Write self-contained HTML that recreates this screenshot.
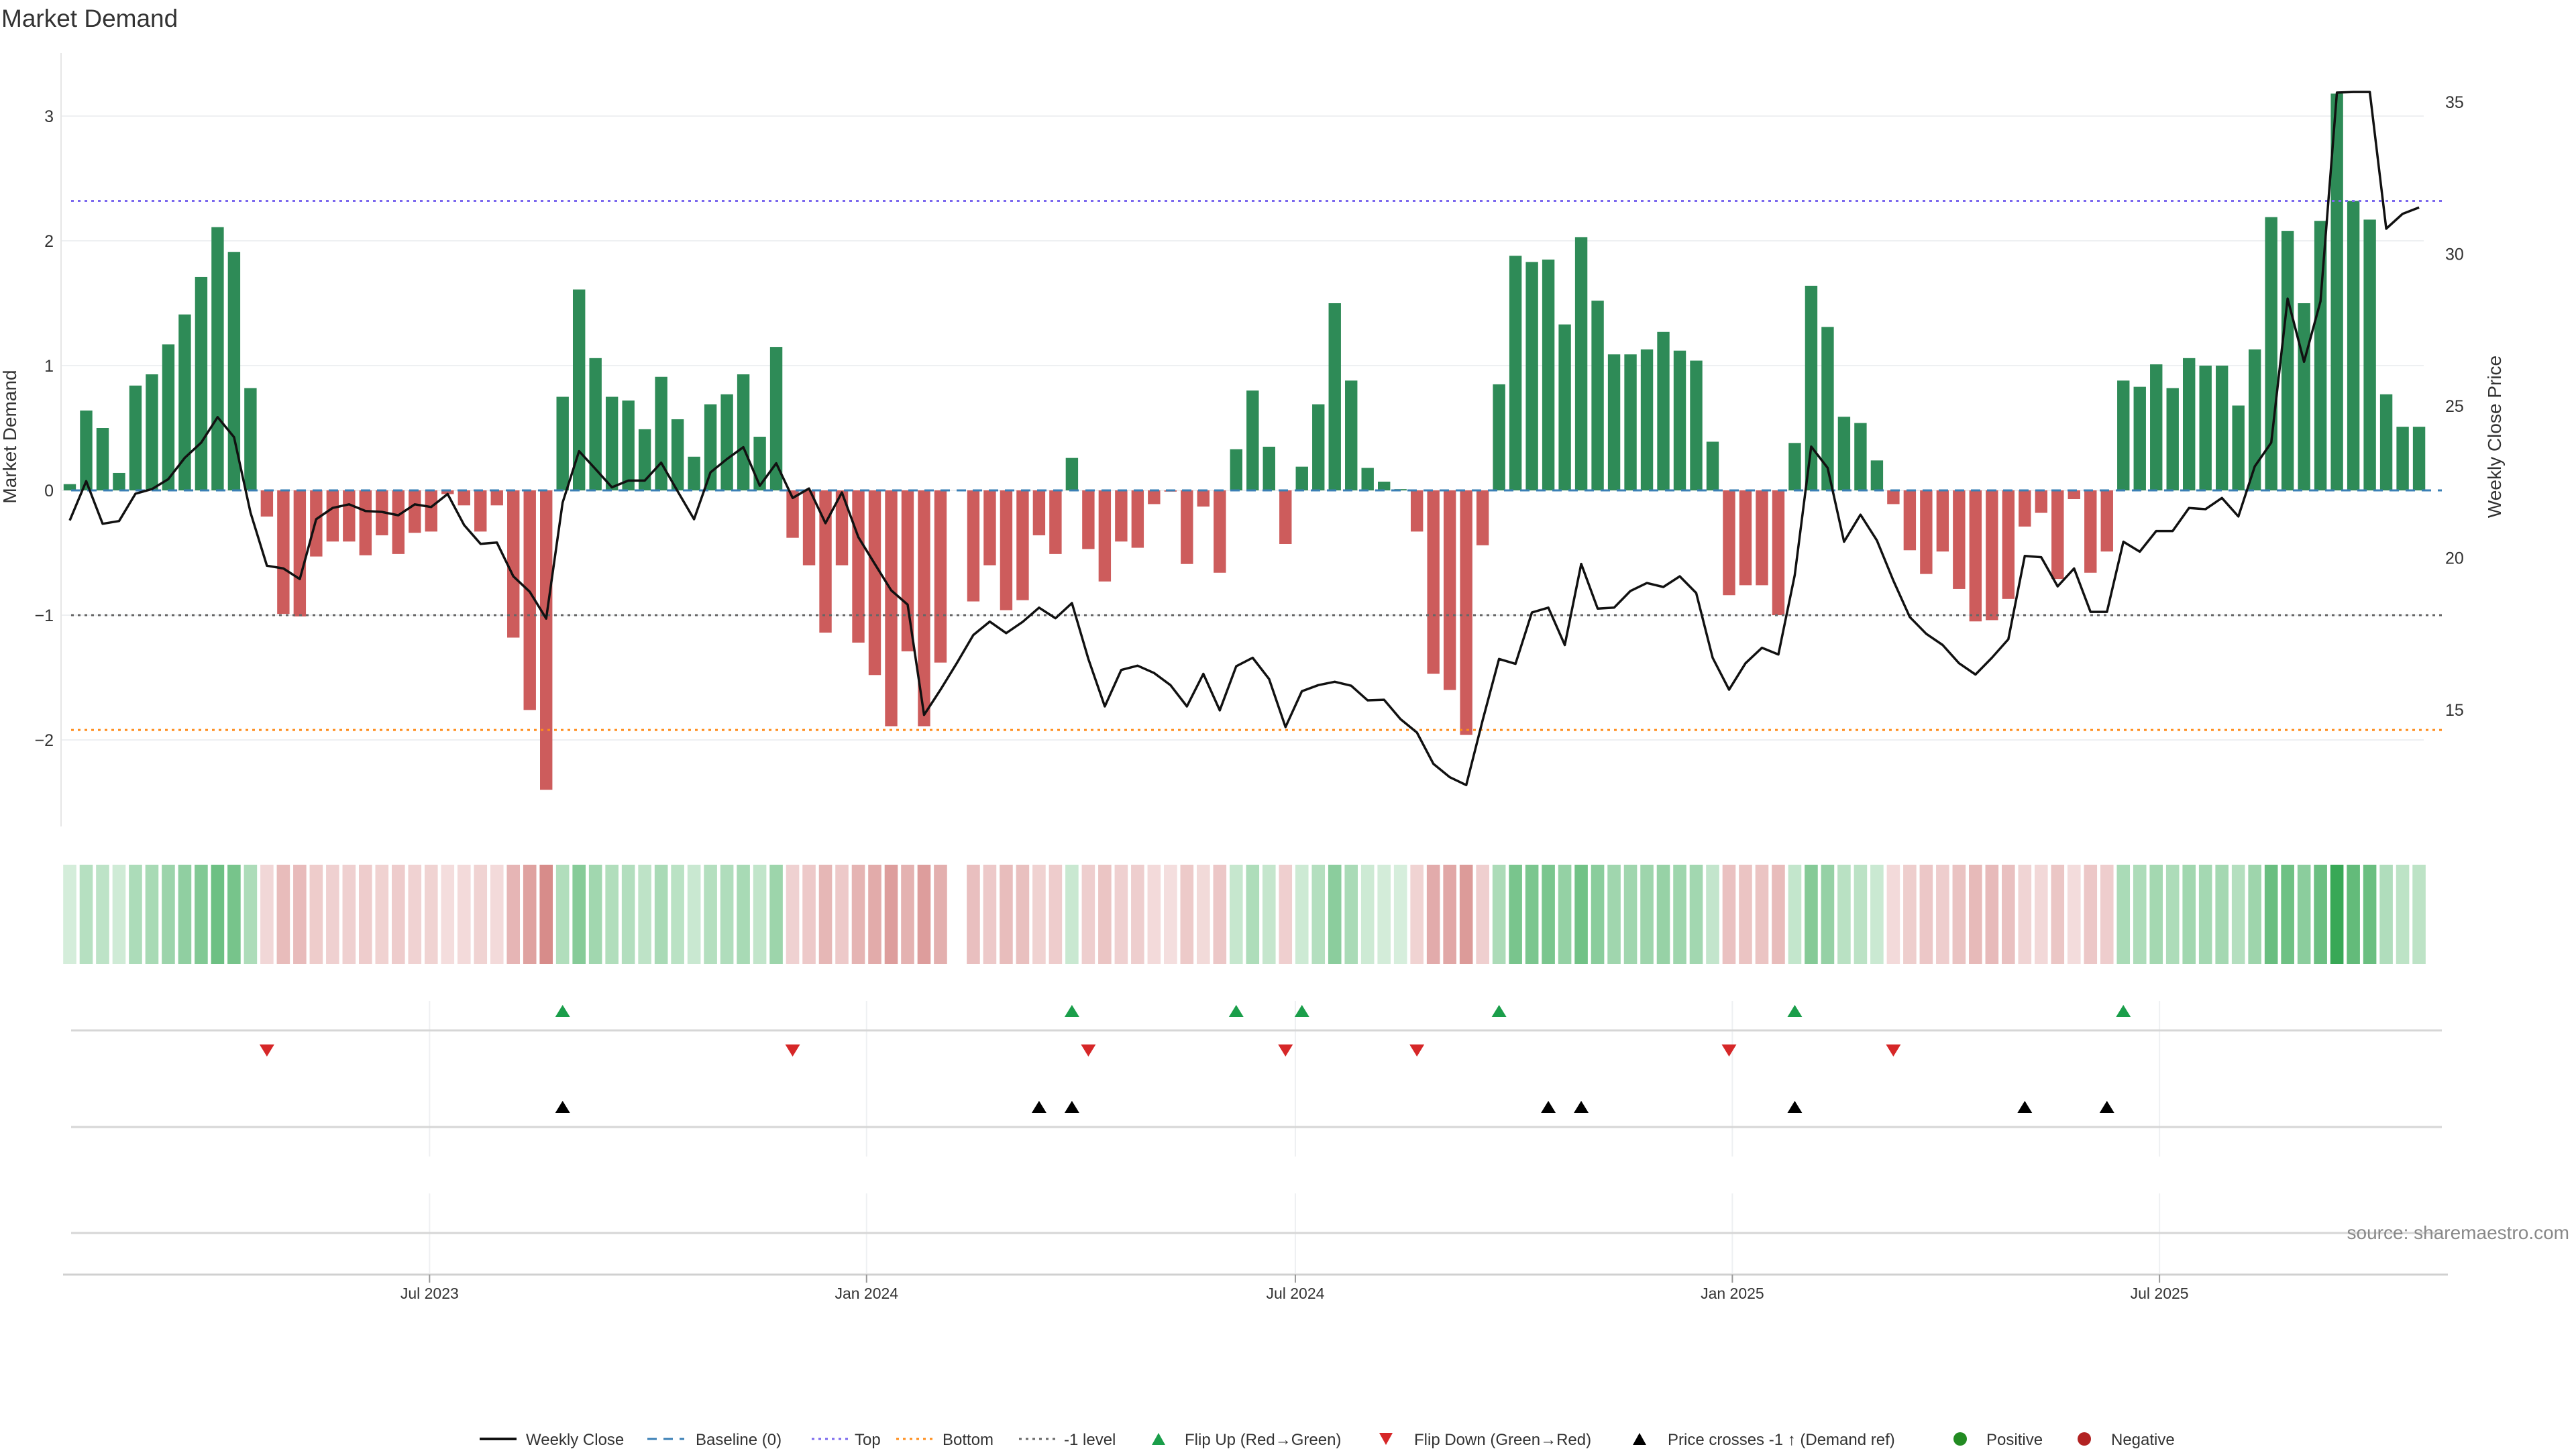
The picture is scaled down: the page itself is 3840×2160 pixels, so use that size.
<!DOCTYPE html>
<html><head><meta charset="utf-8"><style>
html,body{margin:0;padding:0;background:#fff;}
svg{display:block;font-family:"Liberation Sans","DejaVu Sans",sans-serif;}
</style></head><body>
<svg id="chart" width="3840" height="2160" viewBox="0 0 3840 2160" xmlns="http://www.w3.org/2000/svg">
<text x="2" y="40" font-size="37" fill="#333">Market Demand</text>
<g id="grid"></g><g id="bars"></g><g id="refs"></g><g id="line"></g><g id="strip"></g><g id="markers"></g><g id="axes"></g><g id="legend"></g>
</svg>
<script>
const demand=[0.05,0.64,0.50,0.14,0.84,0.93,1.17,1.41,1.71,2.11,1.91,0.82,-0.21,-0.99,-1.01,-0.53,-0.41,-0.41,-0.52,-0.36,-0.51,-0.34,-0.33,-0.03,-0.12,-0.33,-0.12,-1.18,-1.76,-2.40,0.75,1.61,1.06,0.75,0.72,0.49,0.91,0.57,0.27,0.69,0.77,0.93,0.43,1.15,-0.38,-0.60,-1.14,-0.60,-1.22,-1.48,-1.89,-1.29,-1.89,-1.38,null,-0.89,-0.60,-0.96,-0.88,-0.36,-0.51,0.26,-0.47,-0.73,-0.41,-0.46,-0.11,-0.01,-0.59,-0.13,-0.66,0.33,0.80,0.35,-0.43,0.19,0.69,1.50,0.88,0.18,0.07,0.01,-0.33,-1.47,-1.60,-1.96,-0.44,0.85,1.88,1.83,1.85,1.33,2.03,1.52,1.09,1.09,1.13,1.27,1.12,1.04,0.39,-0.84,-0.76,-0.76,-1.00,0.38,1.64,1.31,0.59,0.54,0.24,-0.11,-0.48,-0.67,-0.49,-0.79,-1.05,-1.04,-0.87,-0.29,-0.18,-0.71,-0.07,-0.66,-0.49,0.88,0.83,1.01,0.82,1.06,1.00,1.00,0.68,1.13,2.19,2.08,1.50,2.16,3.18,2.32,2.17,0.77,0.51,0.51];
const price=[21.23,22.52,21.12,21.21,22.11,22.26,22.59,23.29,23.79,24.63,23.97,21.49,19.74,19.65,19.30,21.27,21.64,21.76,21.54,21.51,21.40,21.76,21.67,22.10,21.08,20.46,20.50,19.39,18.88,18.00,21.82,23.51,22.92,22.32,22.54,22.54,23.13,22.19,21.27,22.81,23.25,23.64,22.37,23.11,21.97,22.28,21.14,22.15,20.68,19.80,18.93,18.46,14.83,15.66,16.54,17.46,17.90,17.52,17.89,18.36,18.01,18.51,16.67,15.11,16.31,16.45,16.21,15.81,15.11,16.18,14.98,16.43,16.71,16.01,14.43,15.61,15.81,15.92,15.79,15.31,15.33,14.69,14.25,13.22,12.78,12.52,14.65,16.67,16.51,18.20,18.36,17.13,19.80,18.33,18.36,18.91,19.17,19.04,19.39,18.84,16.71,15.66,16.53,17.04,16.82,19.43,23.66,22.96,20.53,21.42,20.57,19.25,18.05,17.50,17.13,16.53,16.16,16.71,17.32,20.06,20.02,19.06,19.65,18.22,18.22,20.53,20.20,20.88,20.88,21.64,21.60,21.97,21.36,23.01,23.79,28.53,26.45,28.44,35.31,35.33,35.33,30.83,31.32,31.53];
const flipUp=[30,61,71,75,87,105,125];
const flipDown=[12,44,62,74,82,101,111];
const priceCross=[30,59,61,90,92,105,119,124];
const leftTicks=[-2,-1,0,1,2,3];
const rightTicks=[15,20,25,30,35];
const xTickPos=[21.9,48.5,74.6,101.2,127.2];
const xTickLabels=["Jul 2023","Jan 2024","Jul 2024","Jan 2025","Jul 2025"];
const topLevel=2.32, bottomLevel=-1.92, minusLevel=-1;

const NS="http://www.w3.org/2000/svg";
function mk(parent,tag,attrs,text){const e=document.createElementNS(NS,tag);for(const k in attrs)e.setAttribute(k,attrs[k]);if(text!==undefined)e.textContent=text;parent.appendChild(e);return e;}
const X=i=>104+i*24.49;
const Y=v=>731-v*186;
const YR=p=>152+(35-p)*45.3;
const PL=91,PR=3613;
const g=id=>document.getElementById(id);

leftTicks.forEach(t=>{const l=mk(g('grid'),'line',{x1:PL,x2:PR,y1:Y(t),y2:Y(t),stroke:'#eef0f2','stroke-width':2});

});
xTickPos.forEach(p=>{[[1492,1724],[1779,1898]].forEach(r=>{const l=mk(g('grid'),'line',{x1:X(p),x2:X(p),y1:r[0],y2:r[1],stroke:'#eef0f2','stroke-width':2});

});});

demand.forEach((v,i)=>{if(v===null)return;const y0=Y(0),y1=Y(v);
const r=mk(g('bars'),'rect',{x:X(i)-9.2,y:Math.min(y0,y1),width:18.4,height:Math.max(1,Math.abs(y1-y0)),fill:v>=0?'#2e8b57':'#cd5c5c'});

});

[[0,'#3a7fb5','14,10','baseline-line'],[topLevel,'#7b68ee','4,6','top-line'],[bottomLevel,'#ff8c1a','4,6','bottom-line'],[minusLevel,'#666','4,6','minus-one-line']].forEach(d=>{
const l=mk(g('refs'),'line',{x1:106,x2:3640,y1:Y(d[0]),y2:Y(d[0]),stroke:d[1],'stroke-width':3,'stroke-dasharray':d[2]});

});

const pts=price.map((p,i)=>X(i).toFixed(1)+','+YR(p).toFixed(1)).join(' ');
const pl=mk(g('line'),'polyline',{points:pts,fill:'none',stroke:'#111','stroke-width':3.5,'stroke-linejoin':'round'});



function lerp(a,b,t){return Math.round(a+(b-a)*t);}
demand.forEach((v,i)=>{if(v===null)return;const t=Math.min(Math.abs(v)/3.2,1);
const c=v>=0?[lerp(214,55,t),lerp(238,168,t),lerp(220,85,t)]:[lerp(244,205,t),lerp(222,112,t),lerp(222,110,t)];
const r=mk(g('strip'),'rect',{x:X(i)-9.8,y:1289,width:19.6,height:148,fill:'rgb('+c.join(',')+')'});

});

[1536,1680,1838].forEach(y=>{const l=mk(g('markers'),'line',{x1:106,x2:3640,y1:y,y2:y,stroke:'#d6d6d6','stroke-width':3});

});
function tri(i,y,up,color,name){const x=X(i),s=11,h=18;
const p=up?`${x-s},${y+h/2} ${x+s},${y+h/2} ${x},${y-h/2}`:`${x-s},${y-h/2} ${x+s},${y-h/2} ${x},${y+h/2}`;
const e=mk(g('markers'),'polygon',{points:p,fill:color});

}
flipUp.forEach(i=>tri(i,1507,true,'#1a9e4a','flip-up-marker'));
flipDown.forEach(i=>tri(i,1566,false,'#d62728','flip-down-marker'));
priceCross.forEach(i=>tri(i,1650,true,'#000','price-cross-marker'));

const A=g('axes');
let e=mk(A,'line',{x1:PL,x2:PL,y1:79,y2:1232,stroke:'#e6e6e6','stroke-width':2});


e=mk(A,'line',{x1:94,x2:3649,y1:1900,y2:1900,stroke:'#d0d0d0','stroke-width':3});


leftTicks.forEach(t=>{const tx=mk(A,'text',{x:80,y:Y(t)+9,'font-size':25,'text-anchor':'end',fill:'#333'},t<0?'\u2212'+Math.abs(t):String(t));

});
rightTicks.forEach(t=>{const tx=mk(A,'text',{x:3645,y:YR(t)+9,'font-size':25,fill:'#333'},String(t));

});
xTickPos.forEach((p,k)=>{const tk=mk(A,'line',{x1:X(p),x2:X(p),y1:1900,y2:1912,stroke:'#999','stroke-width':2});


const tx=mk(A,'text',{x:X(p),y:1936,'font-size':23,'text-anchor':'middle',fill:'#333'},xTickLabels[k]);

});
e=mk(A,'text',{x:0,y:0,'font-size':28,'text-anchor':'middle',fill:'#333',transform:'translate(24,651) rotate(-90)'},'Market Demand');


e=mk(A,'text',{x:0,y:0,'font-size':28,'text-anchor':'middle',fill:'#333',transform:'translate(3728,651) rotate(-90)'},'Weekly Close Price');


e=mk(A,'text',{x:3830,y:1847,'font-size':28,'text-anchor':'end',fill:'#888'},'source: sharemaestro.com');



const L=g('legend'),ly=2145;
function lline(x1,col,dash,w,name){const l=mk(L,'line',{x1:x1,x2:x1+55,y1:ly,y2:ly,stroke:col,'stroke-width':w,'stroke-dasharray':dash});

}
function ltext(x,t,name){const tx=mk(L,'text',{x:x,y:ly+9,'font-size':24,fill:'#333'},t);

}
lline(715,'#111','none',4,'legend-swatch-close');ltext(784,'Weekly Close','legend-weekly-close');
lline(965,'#3a7fb5','14,10',3,'legend-swatch-baseline');ltext(1037,'Baseline (0)','legend-baseline');
lline(1210,'#7b68ee','4,6',3,'legend-swatch-top');ltext(1274,'Top','legend-top');
lline(1336,'#ff8c1a','4,6',3,'legend-swatch-bottom');ltext(1405,'Bottom','legend-bottom');
lline(1519,'#666','4,6',3,'legend-swatch-minus-one');ltext(1586,'-1 level','legend-minus-one');
function ltri(x,up,col,name){const s=10,h=18,y=ly;const p=up?`${x-s},${y+h/2} ${x+s},${y+h/2} ${x},${y-h/2}`:`${x-s},${y-h/2} ${x+s},${y-h/2} ${x},${y+h/2}`;
const e=mk(L,'polygon',{points:p,fill:col});

}
ltri(1727,true,'#1a9e4a','legend-swatch-flip-up');ltext(1766,'Flip Up (Red\u2192Green)','legend-flip-up');
ltri(2066,false,'#d62728','legend-swatch-flip-down');ltext(2108,'Flip Down (Green\u2192Red)','legend-flip-down');
ltri(2444,true,'#000','legend-swatch-price-cross');ltext(2486,'Price crosses -1 \u2191 (Demand ref)','legend-price-cross');
e=mk(L,'circle',{cx:2922,cy:ly,r:10,fill:'#228b22'});


ltext(2961,'Positive','legend-positive');
e=mk(L,'circle',{cx:3107,cy:ly,r:10,fill:'#b22222'});


ltext(3147,'Negative','legend-negative');
</script>
</body></html>
